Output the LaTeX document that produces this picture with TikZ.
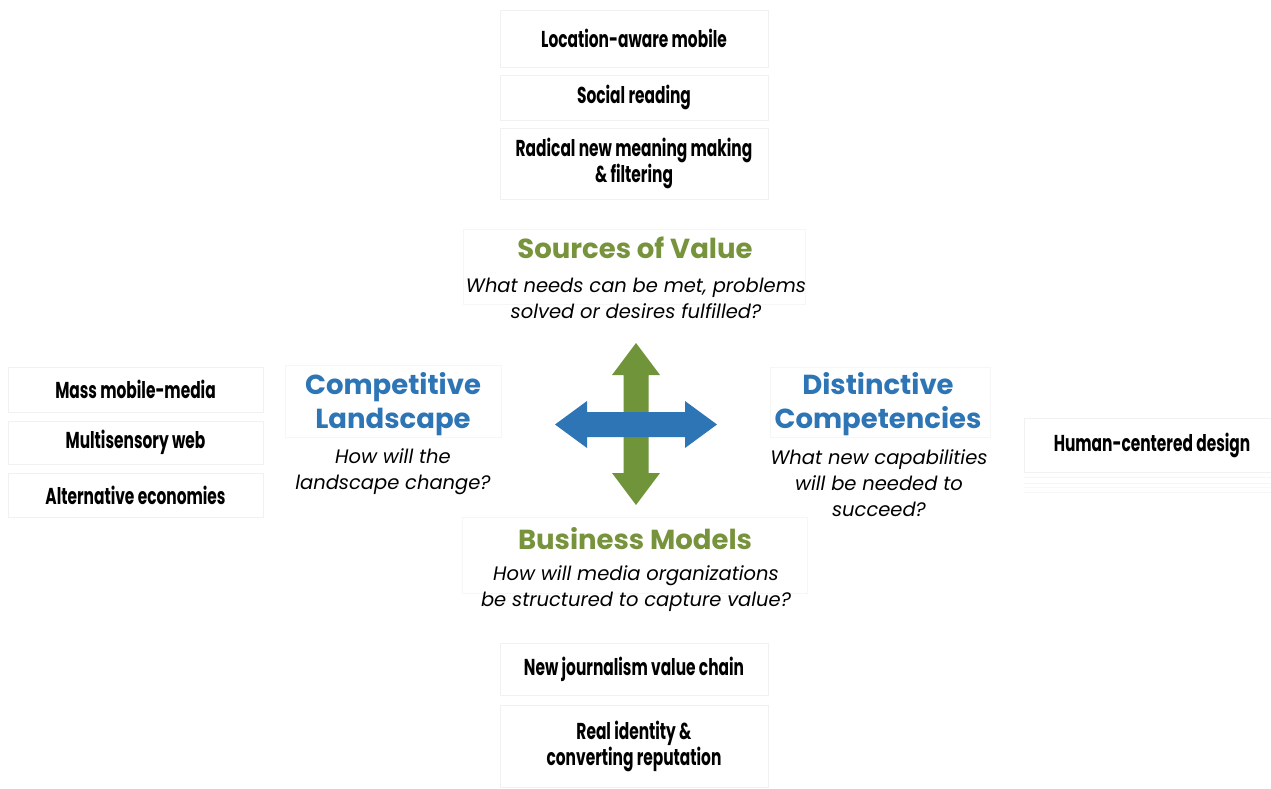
\documentclass[tikz,border=0pt]{standalone}
\usepackage{fontspec}
\setmainfont{Poppins}
\newfontfamily\itemf[FakeStretch=0.67]{Poppins}
\newfontfamily\headf{Poppins}
\newfontfamily\quesf{Poppins}
\definecolor{vgreen}{HTML}{77933C}
\definecolor{agreen}{HTML}{6F9439}
\definecolor{vblue}{HTML}{2E75B6}
\definecolor{faint}{HTML}{F1F1F1}
\definecolor{fainter}{HTML}{F6F6F6}
\begin{document}
\begin{tikzpicture}[x=1pt,y=-1pt,
  itembox/.style={draw=faint, line width=0.8pt, inner sep=0pt, align=center,
    font=\itemf\bfseries\fontsize{23}{26}\selectfont, text=black},
  headbox/.style={draw=fainter, line width=0.6pt, inner sep=0pt},
  gtitle/.style={font=\headf\bfseries\fontsize{27.5}{34}\selectfont, text=vgreen, align=center, inner sep=0pt},
  btitle/.style={font=\headf\bfseries\fontsize{27.5}{34}\selectfont, text=vblue, align=center, inner sep=0pt},
  ques/.style={font=\quesf\itshape\fontsize{19.5}{26}\selectfont, text=black, align=center, inner sep=0pt}]
\useasboundingbox (0,0) rectangle (1271,789);
\fill[white] (0,0) rectangle (1271,789);

% faint heading boxes
\node[headbox, minimum width=342, minimum height=75] (svbox) at (634,267) {};
\node[headbox, minimum width=216, minimum height=72] (clbox) at (393,401) {};
\node[headbox, minimum width=220, minimum height=70] (dcbox) at (880,402) {};
\node[headbox, minimum width=345, minimum height=76] (bmbox) at (635,555) {};

% top items
\node[itembox, minimum width=268, minimum height=57] (loc) at (634,38.5) {Location-aware mobile};
\node[itembox, minimum width=268, minimum height=45] (soc) at (634,97.5) {Social reading};
\node[itembox, minimum width=268, minimum height=71] (rad) at (634,163.5) {Radical new meaning making\\\& filtering};

% left items
\node[itembox, minimum width=255, minimum height=45] (mass) at (135.5,389.5) {Mass mobile-media};
\node[itembox, minimum width=255, minimum height=43] (multi) at (135.5,442.5) {Multisensory web};
\node[itembox, minimum width=255, minimum height=44] (alt) at (135.5,495) {Alternative economies};

% right item
\node[itembox, minimum width=256, minimum height=54] (human) at (1152,445) {Human-centered design};
\draw[blue!4, line width=0.6pt] (1024,477) -- (1271,477);
\draw[fainter, line width=0.6pt] (1024,483) -- (1271,483);
\draw[red!4, line width=0.6pt] (1024,487) -- (1271,487);
\draw[fainter, line width=0.6pt] (1024,492) -- (1271,492);

% bottom items
\node[itembox, minimum width=268, minimum height=52] (newj) at (634,669) {New journalism value chain};
\node[itembox, minimum width=268, minimum height=82] (real) at (634,746) {Real identity \&\\converting reputation};

% headings
\node[gtitle] (sv) at (635,248) {Sources of Value};
\node[ques] (svq) at (636,298) {What needs can be met, problems\\solved or desires fulfilled?};
\node[btitle] (cl) at (393,404) {Competitive\\Landscape};
\node[ques] (clq) at (393,472) {How will the\\landscape change?};
\node[btitle] (dc) at (878,404) {Distinctive\\Competencies};
\node[ques] (dcq) at (879,483.5) {What new capabilities\\will be needed to\\succeed?};
\node[gtitle] (bm) at (635,539) {Business Models};
\node[ques] (bmq) at (636,589) {How will media organizations\\be structured to capture value?};

% cross arrows
\fill[agreen] (636,343) -- (660,375) -- (648.5,375) -- (648.5,473) -- (660,473)
  -- (636,505) -- (612,473) -- (623.5,473) -- (623.5,375) -- (612,375) -- cycle;
\fill[vblue] (555,424.5) -- (587,401) -- (587,412) -- (685,412) -- (685,401)
  -- (717,424.5) -- (685,448) -- (685,437) -- (587,437) -- (587,448) -- cycle;
\end{tikzpicture}
\end{document}
